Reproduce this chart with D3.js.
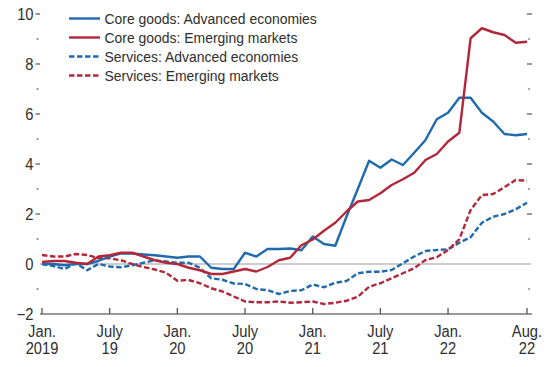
<!DOCTYPE html>
<html><head><meta charset="utf-8">
<script src="https://cdn.jsdelivr.net/npm/d3@7/dist/d3.min.js"></script>
<style>
html,body{margin:0;padding:0;background:#fff;}
svg{display:block;font-family:"Liberation Sans",Arial,sans-serif;}
</style></head>
<body>
<svg id="c" width="555" height="367"></svg>
<script>
// Monthly, Jan 2019 .. Aug 2022 (44 months)
const nMonths = 44;
const coreGoodsAE = [0.0,0.0,-0.05,0.0,0.0,0.12,0.3,0.43,0.42,0.38,0.35,0.3,0.25,0.3,0.3,-0.15,-0.2,-0.2,0.45,0.3,0.6,0.6,0.62,0.55,1.1,0.8,0.73,1.9,3.0,4.13,3.85,4.18,3.96,4.45,4.96,5.79,6.05,6.65,6.65,6.05,5.7,5.2,5.15,5.2];
const coreGoodsEM = [0.08,0.12,0.12,0.05,0.0,0.3,0.35,0.45,0.45,0.3,0.15,0.05,0.0,-0.15,-0.25,-0.4,-0.4,-0.3,-0.2,-0.3,-0.12,0.15,0.25,0.75,0.98,1.33,1.65,2.1,2.5,2.56,2.83,3.16,3.39,3.65,4.16,4.4,4.9,5.25,9.03,9.43,9.27,9.16,8.85,8.89];
const servicesAE = [0.0,-0.08,-0.2,0.03,-0.25,0.0,-0.1,-0.13,-0.05,0.05,0.15,0.1,0.05,0.05,-0.15,-0.57,-0.63,-0.78,-0.8,-1.0,-1.05,-1.2,-1.08,-1.05,-0.82,-0.93,-0.75,-0.68,-0.37,-0.31,-0.31,-0.24,0.03,0.3,0.52,0.56,0.59,0.85,1.07,1.65,1.89,2.0,2.19,2.45];
const servicesEM = [0.36,0.3,0.3,0.4,0.36,0.23,0.23,0.15,0.0,-0.12,-0.22,-0.35,-0.67,-0.64,-0.77,-0.97,-1.1,-1.3,-1.5,-1.53,-1.53,-1.5,-1.55,-1.53,-1.5,-1.6,-1.55,-1.47,-1.31,-0.91,-0.77,-0.57,-0.37,-0.17,0.16,0.27,0.56,0.99,2.16,2.76,2.8,3.07,3.36,3.33];
const seriesNames = ["Core goods: Advanced economies","Core goods: Emerging markets","Services: Advanced economies","Services: Emerging markets"];
const xTickMonths = [0,6,12,18,24,30,36,43];
const xTickLine1 = ["Jan.","July","Jan.","July","Jan.","July","Jan.","Aug."];
const xTickLine2 = ["2019","19","20","20","21","21","22","22"];
const yMajor = [-2,0,2,4,6,8,10];
const yMinor = [-1,1,3,5,7,9];
const yLabels = ["\u22122","0","2","4","6","8","10"];

const fsAxis = 16, sxAxis = 0.92;
const fsLegend = 15.5, sxLegend = 0.9;

const blue = "#1f6aad", red = "#b2283a";
const series = [
  {name: seriesNames[0], values: coreGoodsAE, color: blue, dash: null},
  {name: seriesNames[1], values: coreGoodsEM, color: red, dash: null},
  {name: seriesNames[2], values: servicesAE, color: blue, dash: "5.5,2.5"},
  {name: seriesNames[3], values: servicesEM, color: red, dash: "5.5,2.5"}
];

const svg = d3.select("#c");
const x = d3.scaleLinear().domain([0, nMonths - 1]).range([42, 527]);
const y = d3.scaleLinear().domain([-2, 10]).range([314, 14]);
const txt = "#2e2e2e";
const tickCol = "#555";
const tf = (tx, ty, sx) => `translate(${tx},${ty}) scale(${sx},1)`;

// zero line
svg.append("line").attr("x1", 40).attr("x2", 531).attr("y1", y(0)).attr("y2", y(0))
  .attr("stroke", "#9a9a9a").attr("stroke-width", 1);

// left axis labels + ticks
const gL = svg.append("g");
gL.selectAll("text").data(yMajor).join("text")
  .attr("transform", d => tf(33.5, y(d), sxAxis)).attr("dy", "0.36em")
  .attr("text-anchor", "end").attr("font-size", fsAxis).attr("fill", txt)
  .text((d, i) => yLabels[i]);
gL.selectAll("line.maj").data(yMajor.filter(d => d !== 0 && d !== -2)).join("line")
  .attr("class","maj").attr("x1", 35.5).attr("x2", 40).attr("y1", d => y(d)).attr("y2", d => y(d))
  .attr("stroke", tickCol).attr("stroke-width", 1.2);
gL.selectAll("line.min").data(yMinor).join("line")
  .attr("class","min").attr("x1", 36.5).attr("x2", 38.5).attr("y1", d => y(d)).attr("y2", d => y(d))
  .attr("stroke", tickCol).attr("stroke-width", 1.2);

// right ticks
const gR = svg.append("g");
gR.selectAll("line.maj").data(yMajor.filter(d => d !== -2 && d !== 0)).join("line")
  .attr("class","maj").attr("x1", 527).attr("x2", 532).attr("y1", d => y(d)).attr("y2", d => y(d))
  .attr("stroke", tickCol).attr("stroke-width", 1.2);
gR.selectAll("line.min").data(yMinor).join("line")
  .attr("class","min").attr("x1", 528).attr("x2", 530).attr("y1", d => y(d)).attr("y2", d => y(d))
  .attr("stroke", tickCol).attr("stroke-width", 1.2);

// bottom axis
svg.append("line").attr("x1", 40).attr("x2", 532).attr("y1", 314).attr("y2", 314)
  .attr("stroke", "#777").attr("stroke-width", 1.3);
const gB = svg.append("g");
gB.selectAll("line").data(xTickMonths).join("line")
  .attr("x1", d => x(d)).attr("x2", d => x(d)).attr("y1", 314).attr("y2", 308)
  .attr("stroke", "#555").attr("stroke-width", 1.3);
gB.selectAll("text.l1").data(xTickMonths).join("text").attr("class","l1")
  .attr("transform", d => tf(x(d), 336.5, sxAxis)).attr("text-anchor", "middle")
  .attr("font-size", fsAxis).attr("fill", txt).text((d, i) => xTickLine1[i]);
gB.selectAll("text.l2").data(xTickMonths).join("text").attr("class","l2")
  .attr("transform", d => tf(x(d), 354, sxAxis)).attr("text-anchor", "middle")
  .attr("font-size", fsAxis).attr("fill", txt).text((d, i) => xTickLine2[i]);

// lines
const line = d3.line().x((d, i) => x(i)).y(d => y(d));
const drawOrder = [2, 3, 0, 1];
drawOrder.forEach(k => {
  const s = series[k];
  svg.append("path").attr("d", line(s.values)).attr("fill", "none")
    .attr("stroke", s.color).attr("stroke-width", 2.4)
    .attr("stroke-linejoin", "round")
    .attr("stroke-dasharray", s.dash);
});

// legend
const lg = svg.append("g");
series.forEach((s, i) => {
  const ly = 18.5 + i * 19;
  lg.append("line").attr("x1", 69).attr("x2", 100).attr("y1", ly).attr("y2", ly)
    .attr("stroke", s.color).attr("stroke-width", 2.4).attr("stroke-dasharray", s.dash);
  lg.append("text").attr("transform", tf(104.5, ly, sxLegend)).attr("dy", "0.38em")
    .attr("font-size", fsLegend).attr("fill", txt).text(s.name);
});
</script>
</body></html>
